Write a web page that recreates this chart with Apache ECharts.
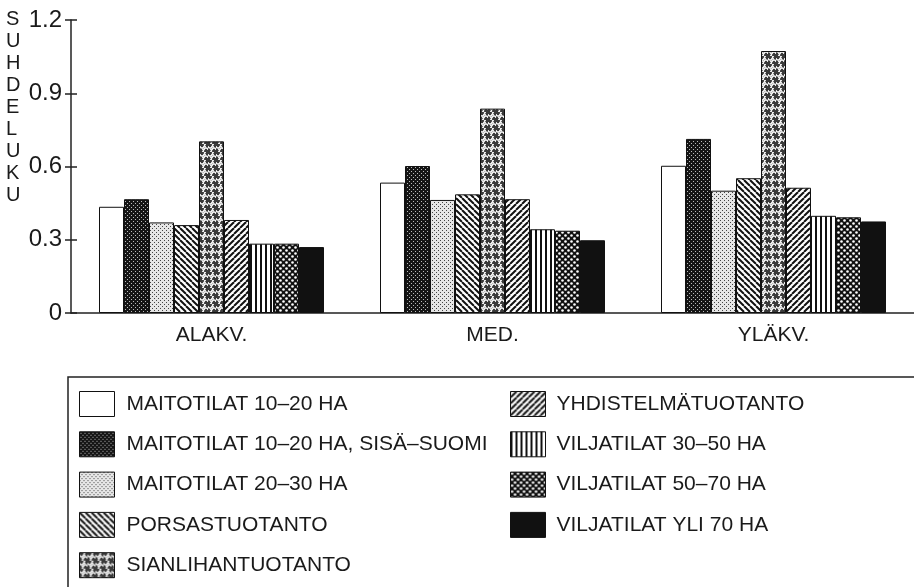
<!DOCTYPE html>
<html>
<head>
<meta charset="utf-8">
<script src="https://cdn.jsdelivr.net/npm/echarts@6/dist/echarts.min.js"></script>
<style>
html,body{margin:0;padding:0;background:#fff;}
#chart{width:914px;height:587px;}
</style>
</head>
<body>
<div id="chart"></div>
<script>
// ---- data ----
var categories = ['ALAKV.', 'MED.', 'YLÄKV.'];
var seriesNames = [
  'MAITOTILAT 10–20 HA',
  'MAITOTILAT 10–20 HA, SISÄ–SUOMI',
  'MAITOTILAT 20–30 HA',
  'PORSASTUOTANTO',
  'SIANLIHANTUOTANTO',
  'YHDISTELMÄTUOTANTO',
  'VILJATILAT 30–50 HA',
  'VILJATILAT 50–70 HA',
  'VILJATILAT YLI 70 HA'
];
var maitotilat1020 = [0.435, 0.534, 0.603];
var maitotilat1020Sisa = [0.466, 0.602, 0.713];
var maitotilat2030 = [0.371, 0.463, 0.501];
var porsastuotanto = [0.360, 0.486, 0.552];
var sianlihantuotanto = [0.703, 0.837, 1.073];
var yhdistelmatuotanto = [0.381, 0.466, 0.513];
var viljatilat3050 = [0.284, 0.343, 0.398];
var viljatilat5070 = [0.284, 0.337, 0.392];
var viljatilatYli70 = [0.270, 0.298, 0.375];
var yTicks = [0, 0.3, 0.6, 0.9, 1.2];
var yTitle = 'SUHDELUKU';

// ---- patterns ----
function tile(w, h, draw) {
  var c = document.createElement('canvas');
  c.width = w; c.height = h;
  var ctx = c.getContext('2d');
  draw(ctx, w, h);
  return { image: c, repeat: 'repeat' };
}
var patWhite = '#ffffff';
var patDarkDots = tile(4, 4, function (ctx) {
  ctx.fillStyle = '#151515'; ctx.fillRect(0, 0, 4, 4);
  ctx.fillStyle = '#bbbbbb'; ctx.fillRect(1, 1, 1, 1); ctx.fillRect(3, 3, 1, 1);
});
var patLightDots = tile(4, 4, function (ctx) {
  ctx.fillStyle = '#e6e6e6'; ctx.fillRect(0, 0, 4, 4);
  ctx.fillStyle = '#444444'; ctx.fillRect(0, 0, 1, 1); ctx.fillRect(2, 2, 1, 1);
});
var patBack = tile(6, 6, function (ctx) {
  ctx.fillStyle = '#fff'; ctx.fillRect(0, 0, 6, 6);
  ctx.strokeStyle = '#111'; ctx.lineWidth = 2;
  [-6, 0, 6].forEach(function (o) { ctx.beginPath(); ctx.moveTo(o, 0); ctx.lineTo(o + 6, 6); ctx.stroke(); });
});
var patFwd = tile(6, 6, function (ctx) {
  ctx.fillStyle = '#fff'; ctx.fillRect(0, 0, 6, 6);
  ctx.strokeStyle = '#111'; ctx.lineWidth = 2;
  [-6, 0, 6].forEach(function (o) { ctx.beginPath(); ctx.moveTo(o, 6); ctx.lineTo(o + 6, 0); ctx.stroke(); });
});
var patSquiggle = tile(8, 8, function (ctx) {
  ctx.fillStyle = '#3a3a3a'; ctx.fillRect(0, 0, 8, 8);
  ctx.strokeStyle = '#f4f4f4'; ctx.lineWidth = 1.5;
  ctx.beginPath(); ctx.arc(2, 2, 2, 0, Math.PI); ctx.stroke();
  ctx.beginPath(); ctx.arc(6, 6, 2, Math.PI, 2 * Math.PI); ctx.stroke();
  ctx.beginPath(); ctx.arc(6, 1.5, 1.5, 0.5 * Math.PI, 1.5 * Math.PI); ctx.stroke();
  ctx.beginPath(); ctx.arc(2, 6.5, 1.5, 1.5 * Math.PI, 2.5 * Math.PI); ctx.stroke();
});
var patVert = tile(5, 5, function (ctx) {
  ctx.fillStyle = '#fff'; ctx.fillRect(0, 0, 5, 5);
  ctx.fillStyle = '#111'; ctx.fillRect(0, 0, 2, 5);
});
var patBlackDots = tile(6, 6, function (ctx) {
  ctx.fillStyle = '#111'; ctx.fillRect(0, 0, 6, 6);
  ctx.fillStyle = '#fff';
  ctx.beginPath(); ctx.arc(1.5, 1.5, 1.3, 0, 2 * Math.PI); ctx.fill();
  ctx.beginPath(); ctx.arc(4.5, 4.5, 1.3, 0, 2 * Math.PI); ctx.fill();
});
var patBlack = '#111111';

var seriesValues = [maitotilat1020, maitotilat1020Sisa, maitotilat2030, porsastuotanto,
  sianlihantuotanto, yhdistelmatuotanto, viljatilat3050, viljatilat5070, viljatilatYli70];
var fills = [patWhite, patDarkDots, patLightDots, patBack, patSquiggle, patFwd, patVert, patBlackDots, patBlack];

var FONT = "'Liberation Sans', Arial, sans-serif";
var TXT = '#1a1a1a';

var series = seriesNames.map(function (name, i) {
  return {
    name: name,
    type: 'bar',
    data: seriesValues[i],
    barWidth: 25,
    barGap: '0%',
    itemStyle: { color: fills[i], borderColor: '#111', borderWidth: 1 },
    silent: true
  };
});

var chart = echarts.init(document.getElementById('chart'), null, { renderer: 'canvas' });
chart.setOption({
  animation: false,
  backgroundColor: '#ffffff',
  grid: { left: 71, right: 0, top: 20, bottom: 274 },
  xAxis: {
    type: 'category',
    data: categories,
    axisLine: { lineStyle: { color: '#222', width: 1.5 } },
    axisTick: { show: false },
    axisLabel: { color: TXT, fontFamily: FONT, fontSize: 21, margin: 12 }
  },
  yAxis: [{
    type: 'value', min: 0, max: 1.2, interval: 0.3,
    axisLine: { show: true, lineStyle: { color: '#222', width: 1.5 } },
    axisTick: { show: true, length: 6, lineStyle: { color: '#222', width: 1.5 } },
    splitLine: { show: false },
    axisLabel: {
      color: TXT, fontFamily: FONT, fontSize: 24, margin: 9,
      customValues: yTicks,
      formatter: function (v) { return v === 0 ? '0' : v.toFixed(1); }
    }
  }, {
    type: 'value', min: 0, max: 1.2, interval: 0.3, position: 'left',
    axisLine: { show: false },
    axisTick: { show: true, inside: true, length: 6, lineStyle: { color: '#222', width: 1.5 } },
    axisLabel: { show: false },
    splitLine: { show: false }
  }],
  legend: [{
    data: seriesNames.slice(0, 5),
    orient: 'vertical',
    left: 79, top: 391,
    padding: 0,
    itemWidth: 35, itemHeight: 25, itemGap: 14.3,
    icon: 'rect',
    selectedMode: false,
    itemStyle: { borderColor: '#111', borderWidth: 1 },
    textStyle: { color: TXT, fontFamily: FONT, fontSize: 21, padding: [0, 0, 0, 7] }
  }, {
    data: seriesNames.slice(5),
    orient: 'vertical',
    left: 510, top: 391,
    padding: 0,
    itemWidth: 35, itemHeight: 25, itemGap: 14.3,
    icon: 'rect',
    selectedMode: false,
    itemStyle: { borderColor: '#111', borderWidth: 1 },
    textStyle: { color: TXT, fontFamily: FONT, fontSize: 21, padding: [0, 0, 0, 6] }
  }],
  graphic: [{
    type: 'text', left: 6, top: 8,
    style: {
      text: yTitle.split('').join('\n'),
      fill: TXT, font: "20px 'Liberation Sans', Arial, sans-serif",
      lineHeight: 22, align: 'center'
    }
  }, {
    type: 'rect',
    shape: { x: 68, y: 377, width: 900, height: 300 },
    style: { fill: 'none', stroke: '#222', lineWidth: 1.5 },
    silent: true
  }],
  series: series
});
</script>
</body>
</html>
